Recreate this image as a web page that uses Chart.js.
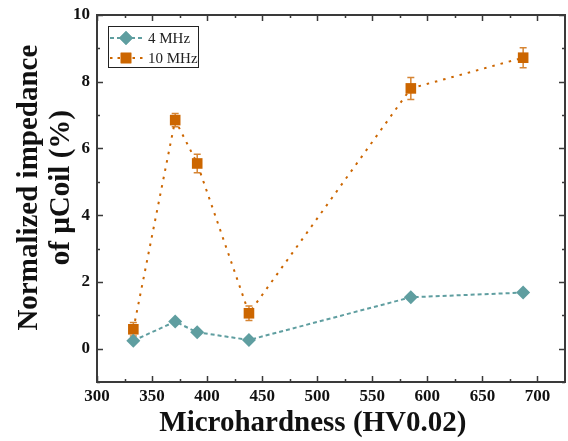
<!DOCTYPE html>
<html>
<head>
<meta charset="utf-8">
<script src="https://cdn.jsdelivr.net/npm/chart.js@4/dist/chart.umd.min.js"></script>
<style>
  html, body { margin: 0; padding: 0; background: #fff; }
  #wrap { width: 568px; height: 441px; }
</style>
</head>
<body>
<div id="wrap"><canvas id="chart" width="568" height="441"></canvas></div>
<script>
// Microhardness (HV0.02) for each sample
const hardness = [333, 371, 391, 438, 585, 687];
// normalized impedance (%) at 4 MHz
const imp4 = [0.24, 0.81, 0.49, 0.26, 1.54, 1.68];
// normalized impedance (%) at 10 MHz and its error
const imp10 = [0.58, 6.85, 5.55, 1.06, 7.80, 8.72];
const err10 = [0.20, 0.20, 0.28, 0.22, 0.33, 0.30];

const xTicks = [300, 350, 400, 450, 500, 550, 600, 650, 700];
const yTicks = [0, 2, 4, 6, 8, 10];

const TEAL = "#5f9ea0";
const ORANGE = "#cc6600";
const AXIS = "#3a3a3a";
const SERIF = "'Liberation Serif'";

const toPoints = (xs, ys) => xs.map((x, i) => ({ x, y: ys[i] }));

/** Barres d'error, marc, marques interiors i llegenda */
const decor = {
  id: "decor",
  beforeDatasetsDraw(chart){
    const { ctx, scales: { x, y } } = chart;
    ctx.save();
    ctx.strokeStyle = "rgba(204,102,0,0.8)";
    ctx.lineWidth = 1.5;
    hardness.forEach((h, i) => {
      const px = x.getPixelForValue(h);
      const top = y.getPixelForValue(imp10[i] + err10[i]);
      const bot = y.getPixelForValue(imp10[i] - err10[i]);
      ctx.beginPath();
      ctx.moveTo(px, top); ctx.lineTo(px, bot);
      ctx.moveTo(px - 3.5, top); ctx.lineTo(px + 3.5, top);
      ctx.moveTo(px - 3.5, bot); ctx.lineTo(px + 3.5, bot);
      ctx.stroke();
    });
    ctx.restore();
  },
  afterDraw(chart){
    const { ctx, chartArea: a, scales: { x, y } } = chart;
    ctx.save();
    ctx.strokeStyle = AXIS;
    ctx.lineWidth = 1.5;
    ctx.beginPath();
    // marques de l'eix x (principals i secundàries)
    for (let v = 300; v < 725; v += 25) {
      const px = Math.round(x.getPixelForValue(v)) + 0.5;
      const len = v % 50 === 0 ? 6 : 3;
      ctx.moveTo(px, a.bottom); ctx.lineTo(px, a.bottom - len);
      ctx.moveTo(px, a.top); ctx.lineTo(px, a.top + len);
    }
    // marques de l'eix y
    for (let v = -1; v <= 10; v += 1) {
      const py = Math.round(y.getPixelForValue(v)) + 0.5;
      const len = v % 2 === 0 ? 6 : 3;
      ctx.moveTo(a.left, py); ctx.lineTo(a.left + len, py);
      ctx.moveTo(a.right, py); ctx.lineTo(a.right - len, py);
    }
    ctx.stroke();
    ctx.lineWidth = 2;
    ctx.strokeRect(a.left, a.top, a.right - a.left, a.bottom - a.top);

    // llegenda
    const lx = a.left + 11, ly = a.top + 11, lw = 90, lh = 41;
    ctx.fillStyle = "#fff";
    ctx.fillRect(lx, ly, lw, lh);
    ctx.lineWidth = 1;
    ctx.strokeStyle = "#222";
    ctx.strokeRect(lx + 0.5, ly + 0.5, lw, lh);
    const rows = [
      { label: "4 MHz", color: TEAL, dash: [4, 3], style: "rectRot", r: 7 },
      { label: "10 MHz", color: ORANGE, dash: [2.5, 5], style: "rect", r: 7.5 }
    ];
    rows.forEach((row, i) => {
      const cy = ly + 12 + i * 20;
      ctx.strokeStyle = row.color;
      ctx.lineWidth = 2;
      ctx.setLineDash(row.dash);
      ctx.beginPath();
      ctx.moveTo(lx + 2, cy); ctx.lineTo(lx + 35, cy);
      ctx.stroke();
      ctx.setLineDash([]);
      ctx.fillStyle = row.color;
      Chart.helpers.drawPoint(ctx, { pointStyle: row.style, radius: row.r, borderWidth: 0 }, lx + 18, cy);
      ctx.fill();
      ctx.fillStyle = "#222";
      ctx.font = "15px " + SERIF;
      ctx.textBaseline = "middle";
      ctx.fillText(row.label, lx + 40, cy + 1);
    });
    ctx.restore();
  }
};

new Chart(document.getElementById("chart"), {
  type: "scatter",
  data: {
    datasets: [
      {
        label: "4 MHz",
        data: toPoints(hardness, imp4),
        showLine: true,
        borderColor: TEAL,
        backgroundColor: TEAL,
        borderWidth: 2,
        borderDash: [4, 3],
        pointStyle: "rectRot",
        pointRadius: 7,
        pointBorderWidth: 0,
        pointHoverRadius: 7
      },
      {
        label: "10 MHz",
        data: toPoints(hardness, imp10),
        showLine: true,
        borderColor: ORANGE,
        backgroundColor: ORANGE,
        borderWidth: 2,
        borderDash: [2.5, 6],
        pointStyle: "rect",
        pointRadius: 7.5,
        pointBorderWidth: 0,
        pointHoverRadius: 7.5
      }
    ]
  },
  options: {
    responsive: false,
    animation: false,
    layout: { autoPadding: false, padding: { top: 15, right: 3, left: 0, bottom: 0 } },
    plugins: { legend: { display: false }, tooltip: { enabled: false } },
    scales: {
      x: {
        type: "linear",
        min: 300,
        max: 725,
        grid: { display: false, drawTicks: false },
        border: { display: false },
        afterBuildTicks: s => { s.ticks = xTicks.map(v => ({ value: v })); },
        afterFit: s => { s.height = 59; s.paddingLeft = 0; s.paddingRight = 0; },
        ticks: {
          color: "#111",
          padding: 4,
          maxRotation: 0,
          font: { family: SERIF, size: 17, weight: "bold" }
        },
        title: {
          display: true,
          text: "Microhardness (HV0.02)     ",
          color: "#111",
          padding: { top: 0, bottom: 0 },
          font: { family: SERIF, size: 29, weight: "bold", lineHeight: 1.2 }
        }
      },
      y: {
        type: "linear",
        min: -1,
        max: 10,
        grid: { display: false, drawTicks: false },
        border: { display: false },
        afterBuildTicks: s => { s.ticks = yTicks.map(v => ({ value: v })); },
        afterFit: s => { s.width = 97; s.paddingTop = 0; s.paddingBottom = 0; },
        ticks: {
          color: "#111",
          padding: 7,
          font: { family: SERIF, size: 17, weight: "bold" }
        },
        title: {
          display: true,
          text: ["   Normalized impedance", "   of \u00b5Coil (%)"],
          color: "#111",
          padding: { top: 13, bottom: 0 },
          font: { family: SERIF, size: 29, weight: "bold", lineHeight: 1.12 }
        }
      }
    }
  },
  plugins: [decor]
});
</script>
</body>
</html>
